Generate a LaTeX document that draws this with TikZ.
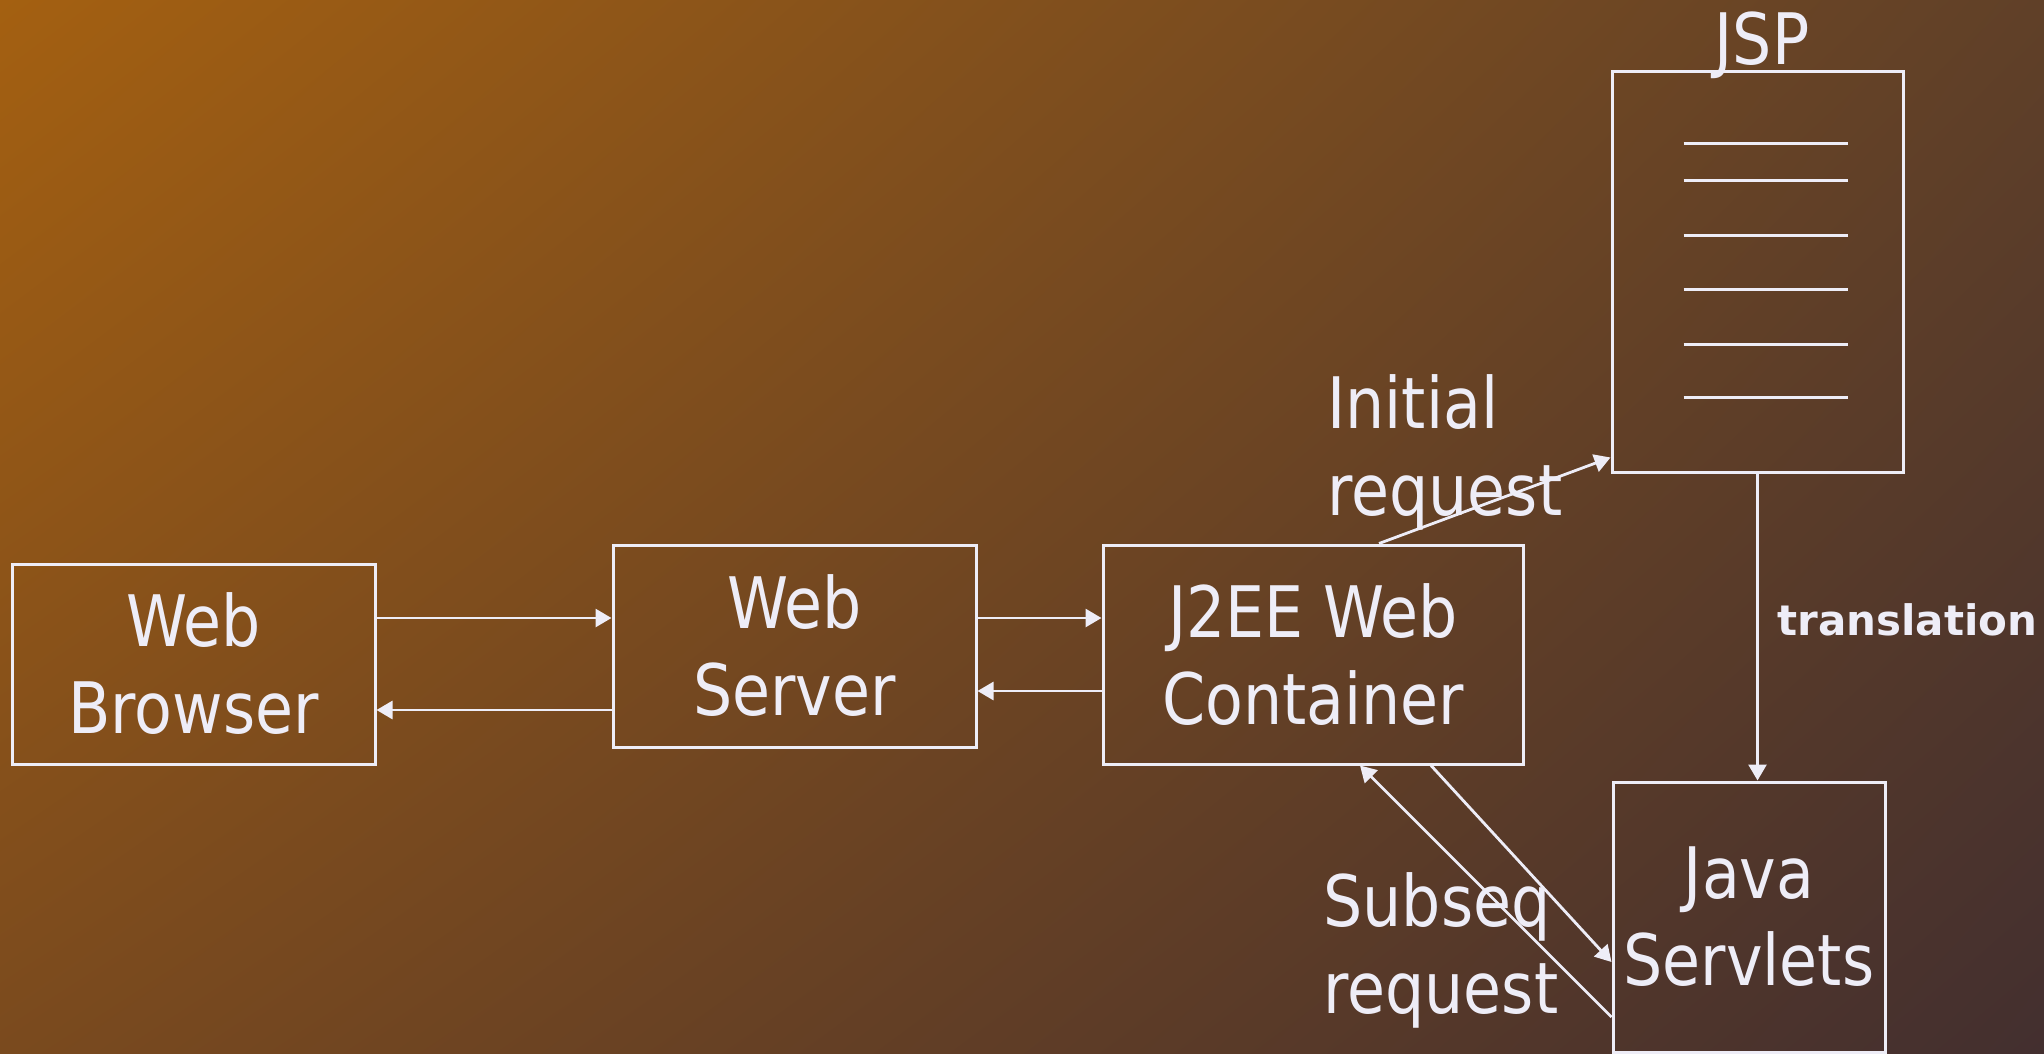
\documentclass[tikz,border=0pt]{standalone}
\usepackage{fontspec}
\setmainfont{DejaVu Sans}[FakeStretch=0.87]
\newfontfamily\transfont{DejaVu Sans}
\usepackage{tikz}
\usepackage{xcolor}
\usetikzlibrary{arrows.meta, shadings}

\definecolor{ink}{HTML}{EEEDF7}
\definecolor{bgUL}{RGB}{164,96,17}
\definecolor{bgUR}{RGB}{96,64,40}
\definecolor{bgLL}{RGB}{122,74,30}
\definecolor{bgLR}{RGB}{67,47,47}

\tikzset{
  box/.style={draw=ink, line width=1.5pt, inner sep=0pt, align=center, text=ink,
    font=\fontsize{35.5}{43.5}\selectfont},
  lbl/.style={inner sep=0pt, align=left, text=ink, font=\fontsize{35.5}{43.5}\selectfont},
  arr/.style={draw=ink, line width=1.4pt, -{Triangle[length=8pt,width=9pt]}},
  docline/.style={draw=ink, line width=1.5pt}
}

\begin{document}
\begin{tikzpicture}[x=0.5pt,y=-0.5pt]
    % background
    \shade[upper left=bgUL, upper right=bgUR, lower left=bgLL, lower right=bgLR]
        (0,0) rectangle (2044,1054);
    \useasboundingbox (0,0) rectangle (2044,1054);

    % boxes
    \node[box, minimum width=181.5pt, minimum height=100pt] (browser) at (193.5,664) {Web\\Browser};
    \node[box, minimum width=181.5pt, minimum height=101pt] (server) at (794.5,646) {Web\\Server};
    \node[box, minimum width=210pt, minimum height=109.5pt] (j2ee) at (1313,654.5) {J2EE Web\\Container};
    \node[box, minimum width=145.5pt, minimum height=200pt] (jsp) at (1757.5,272) {};
    \node[box, minimum width=136pt, minimum height=135pt] (servlets) at (1749,917) {Java\\Servlets};

    % page lines
    \foreach \dy in {36.5,55,82.5,109.5,137,163.5}
        \draw[docline] ([xshift=36.5pt,yshift=-\dy pt]jsp.north west) -- ++(82pt,0);

    % labels
    \node[lbl, anchor=base] (jsplbl) at (1762,65) {JSP};
    \node[lbl, anchor=base west] (initlbl) at (1327,515) {Initial\\request};
    \node[lbl, anchor=base west] (subslbl) at (1323,1013) {Subseq\\request};
    \node[inner sep=0pt, text=ink, anchor=base west, font=\transfont\bfseries\fontsize{21}{25}\selectfont]
        (translbl) at (1777,635) {translation};

    % request and response rows
    \coordinate (fwd) at ([yshift=23pt]browser.east);
    \coordinate (back1) at ([yshift=-23pt]browser.east);
    \coordinate (back2) at ([yshift=-18.25pt]j2ee.west);
    \draw[arr] (fwd) -- (fwd -| server.west);
    \draw[arr] (fwd -| server.east) -- (fwd -| j2ee.west);
    \draw[arr] (back1 -| server.west) -- (back1);
    \draw[arr] (back2) -- (back2 -| server.east);

    % JSP path
    \draw[arr] ([xshift=33pt]j2ee.north) -- ([yshift=8pt]jsp.south west);
    \draw[arr] (jsp.south) -- (jsp.south |- servlets.north);
    \draw[arr] ([xshift=59pt]j2ee.south) -- ([yshift=-22.5pt]servlets.west);
    \draw[arr] ([yshift=-50pt]servlets.west) -- ([xshift=23.5pt]j2ee.south);
\end{tikzpicture}
\end{document}
